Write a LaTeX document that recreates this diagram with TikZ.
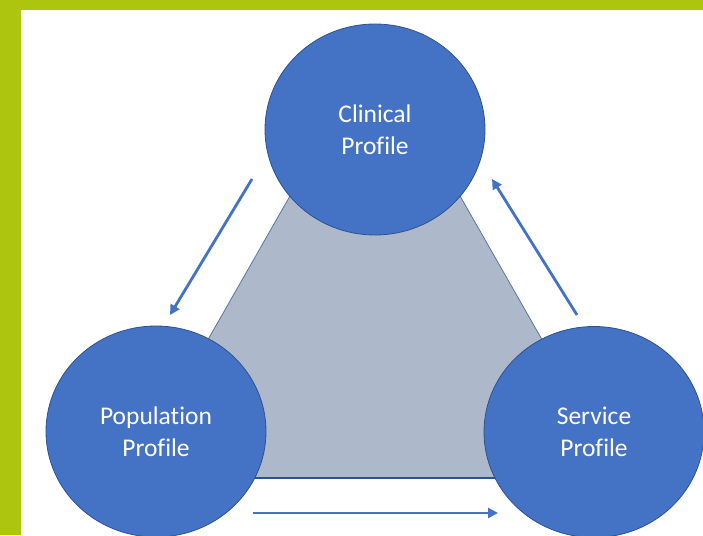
\documentclass[tikz,border=0pt]{standalone}
\usepackage{fontspec}
\setsansfont[Ligatures=NoCommon]{Carlito}
\usetikzlibrary{arrows.meta,shapes.geometric}
\definecolor{profilegreen}{HTML}{AEC50F}
\definecolor{profileblue}{HTML}{4472C4}
\definecolor{profileedge}{HTML}{2F528F}
\definecolor{profilegray}{HTML}{ADB9CA}

\begin{document}
\begin{tikzpicture}[
  x=1pt,y=-1pt,
  font=\sffamily\fontsize{25.5}{32}\selectfont,
  profile/.style={ellipse,draw=profileedge,line width=0.8pt,fill=profileblue,minimum width=220pt,minimum height=211pt,inner sep=0pt,align=center,text=white},
  flow/.style={draw=profileblue,line width=2.8pt,-{Triangle[length=10pt,width=10pt]}}
]
\useasboundingbox (0,0) rectangle (703,535);
\clip (0,0) rectangle (703,535);
\fill[white] (0,0) rectangle (703,535);
\fill[profilegreen] (0,0) rectangle (703,10);
\fill[profilegreen] (0,0) rectangle (21,535);

% shared area behind the three profiles
\draw[profileedge!80,line width=0.8pt,fill=profilegray] (375,47) -- (129,478) -- (621,478) -- cycle;
\draw[profileedge,line width=1.2pt] (129,478) -- (621,478);

\node[profile] (clinical) at (375,129.5) {Clinical\\Profile};
\node[profile] (population) at (156,431.5) {Population\\Profile};
\node[profile] (service) at (594,432) {Service\\Profile};

% flow around the cycle
\coordinate (cp-from) at (252,179);
\coordinate (cp-to) at (170,315);
\coordinate (ps-from) at (253,513);
\coordinate (ps-to) at (498,513);
\coordinate (sc-from) at (577,315);
\coordinate (sc-to) at (492,179);
\draw[flow] (cp-from) -- (cp-to);
\draw[flow] (ps-from) -- (ps-to);
\draw[flow] (sc-from) -- (sc-to);
\end{tikzpicture}
\end{document}
